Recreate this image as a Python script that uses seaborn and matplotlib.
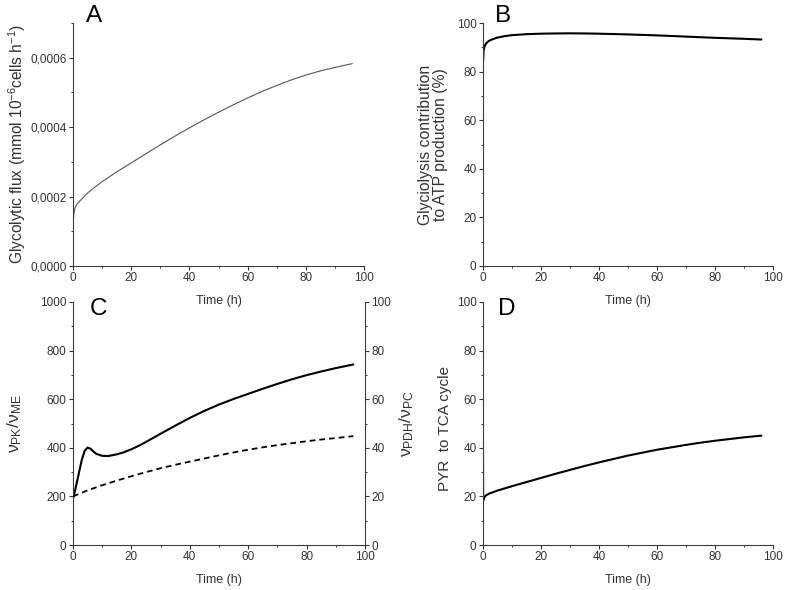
import matplotlib
matplotlib.use("Agg")
import matplotlib.pyplot as plt
import seaborn as sns
from matplotlib.ticker import MultipleLocator, FuncFormatter

# ---------------- data ----------------
t_A = [0, 0.3, 0.7, 1.5, 3, 5, 7.5, 10, 15, 20, 25, 30, 35, 40, 45, 50, 55, 60,
       65, 70, 75, 80, 85, 90, 96]
flux_A = [0.000122, 0.000150, 0.000168, 0.000180, 0.000193, 0.000210, 0.000227,
          0.000243, 0.000271, 0.000297, 0.000323, 0.000349, 0.000374, 0.000398,
          0.000421, 0.000443, 0.000464, 0.000484, 0.000503, 0.000520, 0.000536,
          0.000550, 0.000562, 0.000572, 0.000583]

t_B = [0, 0.2, 0.5, 1, 2, 3, 5, 7.5, 10, 15, 20, 25, 30, 35, 40, 50, 60, 70, 80,
       90, 96]
glyc_B = [83.5, 88.5, 90.3, 91.5, 92.6, 93.2, 94.0, 94.6, 95.0, 95.4, 95.6, 95.7,
          95.75, 95.7, 95.6, 95.3, 94.9, 94.4, 93.9, 93.5, 93.2]

t_C = [0, 0.5, 1, 2, 3, 4, 5, 6, 7, 8, 10, 12, 15, 17.5, 20, 22.5, 25, 27.5, 30,
       35, 40, 45, 50, 55, 60, 65, 70, 75, 80, 85, 90, 96]
pk_me_C = [190, 215, 240, 295, 350, 388, 401, 396, 385, 375, 367, 366, 373, 382,
           394, 408, 424, 441, 458, 491, 523, 552, 578, 601, 622, 643, 663, 682,
           699, 714, 728, 743]

t_C2 = [0, 2, 5, 10, 15, 20, 25, 30, 35, 40, 45, 50, 55, 60, 65, 70, 75, 80, 85,
        90, 96]
pdh_pc_C = [20, 21, 22.5, 24.6, 26.5, 28.3, 30, 31.6, 33, 34.3, 35.6, 36.9, 38.1,
            39.2, 40.2, 41.1, 41.9, 42.7, 43.4, 44.0, 44.8]

t_D = [0, 0.05, 0.5, 1, 2, 5, 10, 15, 20, 25, 30, 35, 40, 45, 50, 55, 60, 65, 70,
       75, 80, 85, 90, 96]
pyr_D = [38, 18.2, 19.7, 20.4, 21.1, 22.4, 24.2, 25.9, 27.6, 29.3, 30.9, 32.5,
         34.0, 35.4, 36.8, 38.0, 39.2, 40.2, 41.2, 42.1, 42.9, 43.6, 44.3, 45.0]

panel_letters = ["A", "B", "C", "D"]
xlabel_text = "Time (h)"

# ---------------- style ----------------
sns.set_style("ticks")
TXT = "#333333"
plt.rcParams["font.family"] = ["Liberation Sans", "DejaVu Sans"]
plt.rcParams["mathtext.fontset"] = "custom"
plt.rcParams["mathtext.rm"] = "Liberation Sans"
plt.rcParams["mathtext.it"] = "Liberation Sans:italic"
plt.rcParams["mathtext.bf"] = "Liberation Sans:bold"
plt.rcParams["text.color"] = TXT
plt.rcParams["axes.labelcolor"] = TXT
plt.rcParams["xtick.color"] = TXT
plt.rcParams["ytick.color"] = TXT
plt.rcParams["axes.edgecolor"] = "#3c3c3c"
plt.rcParams["axes.linewidth"] = 0.8

fig = plt.figure(figsize=(7.87, 5.90), dpi=100)
fig.patch.set_facecolor("white")
W, H = 787.0, 590.0
axA = fig.add_axes([73 / W, 1 - 266 / H, 291 / W, 243 / H])
axB = fig.add_axes([483 / W, 1 - 266 / H, 290 / W, 243 / H])
axC = fig.add_axes([73 / W, 1 - 545 / H, 292 / W, 243 / H])
axD = fig.add_axes([483 / W, 1 - 545 / H, 290 / W, 243 / H])


def style(ax, ymax, ymaj, ymin, right=False):
    ax.set_facecolor("none")
    ax.set_xlim(0, 100)
    ax.set_ylim(0, ymax)
    ax.xaxis.set_major_locator(MultipleLocator(20))
    ax.xaxis.set_minor_locator(MultipleLocator(10))
    ax.yaxis.set_major_locator(MultipleLocator(ymaj))
    ax.yaxis.set_minor_locator(MultipleLocator(ymin))
    ax.spines["top"].set_visible(False)
    ax.spines["right"].set_visible(right)
    ax.tick_params(which="major", direction="out", length=2.6, width=0.8,
                   labelsize=8.5, pad=2)
    ax.tick_params(which="minor", direction="out", length=1.6, width=0.7)
    ax.grid(False)


def xlab(ax):
    ax.set_xlabel(xlabel_text, fontsize=9, va="center")
    ax.xaxis.set_label_coords(0.5, -0.145)


# Panel A
sns.lineplot(x=t_A, y=flux_A, ax=axA, color="#555555", linewidth=0.8,
             estimator=None, sort=False)
style(axA, 0.0007, 0.0002, 0.0001)
axA.yaxis.set_major_formatter(FuncFormatter(lambda v, p: f"{v:.4f}".replace(".", ",")))
axA.set_ylabel("Glycolytic flux (mmol 10$^{-6}$cells h$^{-1}$)", fontsize=11.2, va="center")
axA.yaxis.set_label_coords(-0.192, 0.5)
xlab(axA)

# Panel B
sns.lineplot(x=t_B, y=glyc_B, ax=axB, color="black", linewidth=1.5,
             estimator=None, sort=False)
style(axB, 100, 20, 10)
axB.set_ylabel("Glyciolysis contribution\nto ATP production (%)", fontsize=11.3,
               va="center", linespacing=1.0)
axB.yaxis.set_label_coords(-0.172, 0.5)
xlab(axB)

# Panel C
sns.lineplot(x=t_C, y=pk_me_C, ax=axC, color="black", linewidth=1.5,
             estimator=None, sort=False)
style(axC, 1000, 200, 100)
axC.set_ylabel(r"$\mathregular{ν_{PK}/ν_{ME}}$", fontsize=12.5, va="center")
axC.yaxis.set_label_coords(-0.199, 0.5)
xlab(axC)

axC2 = axC.twinx()
sns.lineplot(x=t_C2, y=pdh_pc_C, ax=axC2, color="black", linewidth=1.3,
             linestyle=(0, (3.2, 2.2)), estimator=None, sort=False)
style(axC2, 100, 20, 10, right=True)
axC2.spines["left"].set_visible(False)
axC2.spines["bottom"].set_visible(False)
axC2.set_ylabel(r"$\mathregular{ν_{PDH}/ν_{PC}}$", fontsize=12.5)
axC2.yaxis.label.set_va("center")
axC2.yaxis.set_label_coords(1.144, 0.5)
axC2.set_xlabel("")

# Panel D
sns.lineplot(x=t_D, y=pyr_D, ax=axD, color="black", linewidth=1.5,
             estimator=None, sort=False)
style(axD, 100, 20, 10)
axD.set_ylabel("PYR  to TCA cycle", fontsize=11, va="center")
axD.yaxis.set_label_coords(-0.131, 0.48)
xlab(axD)

# Panel letters
letter_pos = [(axA, 0.046, 1.004), (axB, 0.043, 1.004),
              (axC, 0.056, 0.947), (axD, 0.050, 0.947)]
for (ax, x, y), lab in zip(letter_pos, panel_letters):
    ax.text(x, y, lab, transform=ax.transAxes, fontsize=17.5, ha="left",
            va="baseline", color="black")

fig.savefig("out.png", dpi=100, facecolor="white")
